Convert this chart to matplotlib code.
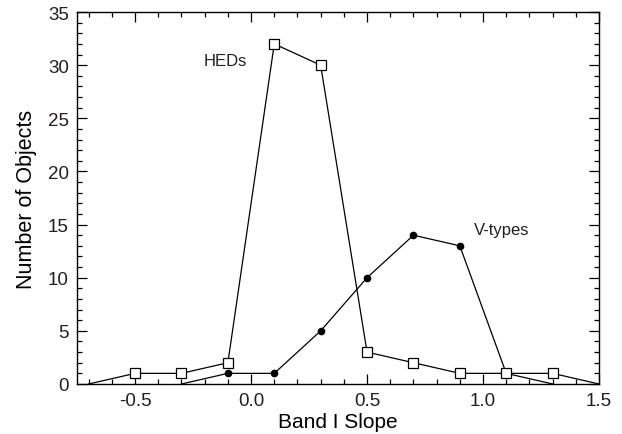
import matplotlib
matplotlib.use("Agg")
import matplotlib.pyplot as plt
import matplotlib.transforms as mtransforms
from matplotlib.ticker import MultipleLocator

plt.rcParams['font.family'] = ['Liberation Sans', 'DejaVu Sans']
plt.rcParams['text.color'] = '#231f20'

# Band I slope bins
hed_x = [-0.7, -0.5, -0.3, -0.1, 0.1, 0.3, 0.5, 0.7, 0.9, 1.1, 1.3, 1.5]
hed_n = [0, 1, 1, 2, 32, 30, 3, 2, 1, 1, 1, 0]
vtype_x = [-0.3, -0.1, 0.1, 0.3, 0.5, 0.7, 0.9, 1.1, 1.3]
vtype_n = [0, 1, 1, 5, 10, 14, 13, 1, 0]

fig = plt.figure(figsize=(6.22, 4.35), dpi=100)
ax = fig.add_axes([0.124, 0.115, 0.839, 0.855])

# markers only where count > 0 (zero points sit on the axis)
hed_marks = [i for i, v in enumerate(hed_n) if v > 0]
vt_marks = [i for i, v in enumerate(vtype_n) if v > 0]

ax.plot(vtype_x, vtype_n, color='black', lw=0.9, marker='o', ms=4.5,
        mfc='black', mec='black', markevery=vt_marks, zorder=2)
ax.plot(hed_x, hed_n, color='black', lw=0.9, marker='s', ms=7,
        mfc='white', mec='black', mew=0.9, markevery=hed_marks, zorder=3)

ax.text(-0.11, 30.4, 'HEDs', fontsize=12, ha='center', va='center')
ax.text(1.08, 14.5, 'V-types', fontsize=12, ha='center', va='center')

ax.set_xlim(-0.75, 1.5)
ax.set_ylim(0, 35)
ax.xaxis.set_major_locator(MultipleLocator(0.5))
ax.xaxis.set_minor_locator(MultipleLocator(0.1))
ax.yaxis.set_major_locator(MultipleLocator(5))
ax.yaxis.set_minor_locator(MultipleLocator(1))
ax.xaxis.set_major_formatter(matplotlib.ticker.FormatStrFormatter('%.1f'))

ax.tick_params(which='both', direction='in', top=True, right=True,
               labelsize=13.5, width=0.9, labelcolor='#231f20')
ax.tick_params(which='major', length=7, pad=6)
ax.tick_params(which='minor', length=3.5)
for s in ax.spines.values():
    s.set_linewidth(1.0)

ax.set_xlabel('Band I Slope', fontsize=15, labelpad=2)
ax.set_ylabel('Number of Objects', fontsize=15.5, labelpad=8)

# nudge the end y labels inside the axis span, as in the original
fig.canvas.draw()
ylabels = ax.get_yticklabels()
ylabels[0].set_transform(ylabels[0].get_transform() +
                         mtransforms.ScaledTranslation(0, 4 / 72, fig.dpi_scale_trans))
ylabels[-1].set_transform(ylabels[-1].get_transform() +
                          mtransforms.ScaledTranslation(0, -3 / 72, fig.dpi_scale_trans))

fig.savefig('out.png', dpi=100)
